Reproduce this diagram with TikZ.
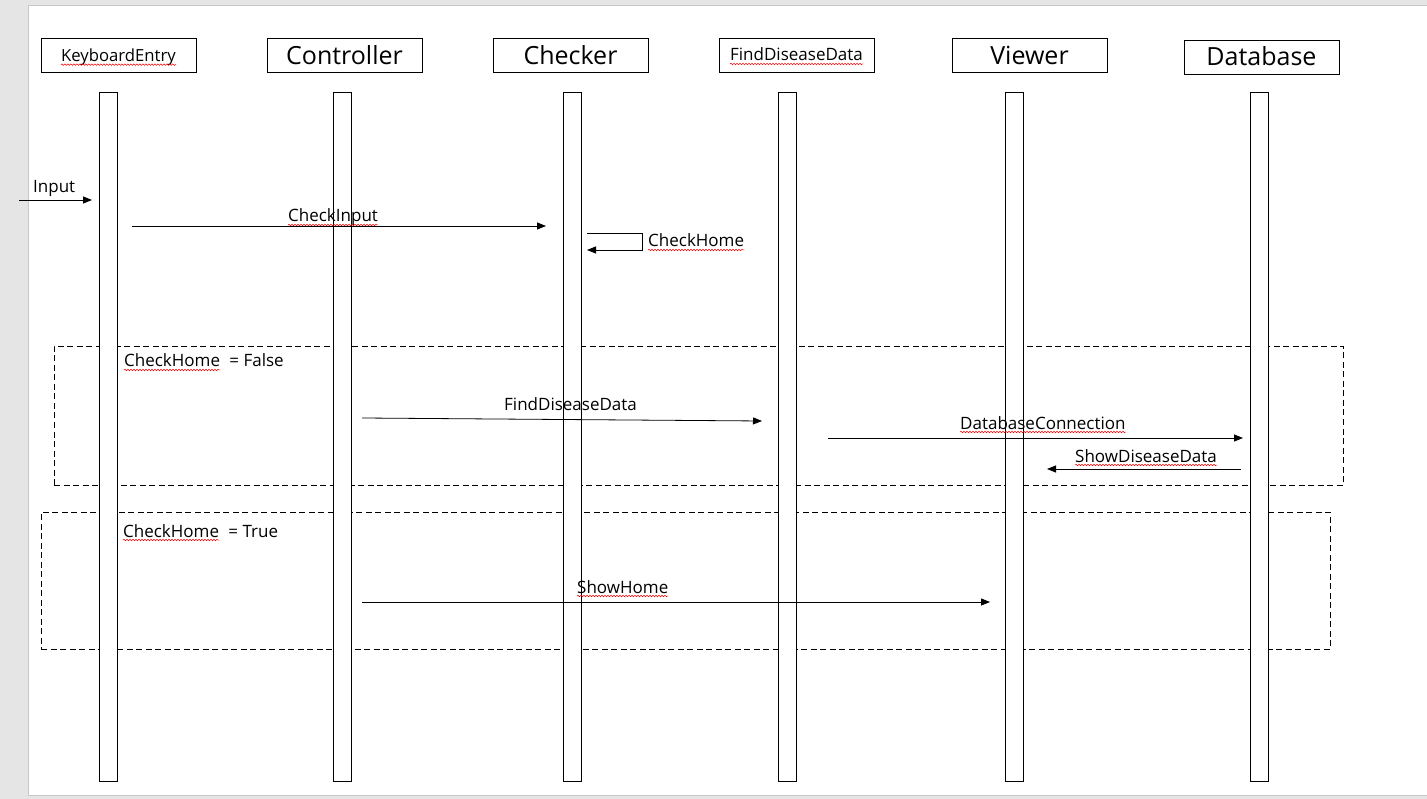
\documentclass[tikz,border=0pt]{standalone}
\usepackage{fontspec}
\setmainfont{Open Sans}
\usetikzlibrary{positioning, arrows.meta, decorations.pathmorphing}

\begin{document}
\begin{tikzpicture}[
        x=1pt, y=-1pt,
        >={Triangle[length=9pt, width=7pt]},
        head/.style={draw, line width=0.9pt, minimum width=155pt, minimum height=34pt, inner sep=0pt},
        bar/.style={draw, fill=white, line width=0.9pt, minimum width=18pt, inner sep=0pt},
        msg/.style={->, line width=0.8pt},
        lbl/.style={anchor=base west, inner sep=0pt, font=\fontsize{17}{19}\selectfont},
        frame/.style={draw, dash pattern=on 6pt off 3.5pt, line width=0.8pt},
        spell/.style={draw=red, line width=0.5pt, decorate, decoration={snake, segment length=3pt, amplitude=0.8pt}},
    ]

        % Page and background
        \useasboundingbox (0,0) rectangle (1427,799);
        \fill[black!10] (0,0) rectangle (1427,799);
        \fill[white] (28,6) rectangle (1427,795);
        \draw[black!22, line width=1pt] (1427,6) -- (28,6) -- (28,795) -- (1427,795);

        % Draw the two condition frames
        \node[frame, minimum width=1289pt, minimum height=139pt, inner sep=0pt] (F-1) at (698.5,415.5) {};
        \node[frame, minimum width=1289pt, minimum height=137pt, inner sep=0pt] (F-2) at (685.5,580.5) {};

        % Draw the participants with their activation bars
        \foreach \name / \hx / \hy / \base / \bx / \fs / \txt in {
                K/118.5/55/61.7/108/16.7/KeyboardEntry,
                C/344.5/55/65/342.5/25/Controller,
                H/570.5/55/65/572.5/25/Checker,
                F/796.5/55/61/787.5/17/FindDiseaseData,
                V/1029.5/55/65/1014.5/25/Viewer,
                D/1261.5/57/66/1259/25/Database}
        {
            \node[head] (P-\name) at (\hx,\hy) {};
            \node[anchor=base, inner sep=0pt, font=\fontsize{\fs}{\fs}\selectfont] (T-\name) at (\hx,\base) {\txt};
            \node[bar, minimum height=689pt] (B-\name) at (\bx,436.5) {};
        }

        % Message end points
        \coordinate (input) at (19,200);
        \coordinate (input-end) at (92,200);
        \coordinate (check-s) at (132,226);
        \coordinate (check-e) at (546,226);
        \coordinate (home-s) at (587,233);
        \coordinate (home-e) at (587,250);
        \coordinate (find-s) at (362,418);
        \coordinate (find-e) at (762,421);
        \coordinate (conn-s) at (828,438);
        \coordinate (conn-e) at (1243,438);
        \coordinate (show-s) at (1241,469);
        \coordinate (show-e) at (1047,469);
        \coordinate (homev-s) at (362,602);
        \coordinate (homev-e) at (990,602);

        % Draw the messages
        \draw[msg] (input) -- (input-end);
        \draw[msg] (check-s) -- (check-e);
        \draw[msg] (home-s) -- ++(55,0) -- ++(0,17) -- (home-e);
        \draw[msg] (find-s) -- (find-e);
        \draw[msg] (conn-s) -- (conn-e);
        \draw[msg] (show-s) -- (show-e);
        \draw[msg] (homev-s) -- (homev-e);

        % Message labels
        \node[lbl] (L-input) at (33,193) {Input};
        \node[lbl] (L-check) at (288,222) {CheckInput};
        \node[lbl] (L-home) at (648,247) {CheckHome};
        \node[lbl] (L-false) at (124,367) {CheckHome};
        \node[lbl] (L-false2) at ([xshift=9pt]L-false.base east) {= False};
        \node[lbl] (L-find) at (504,410) {FindDiseaseData};
        \node[lbl] (L-conn) at (960,429) {DatabaseConnection};
        \node[lbl] (L-show) at (1075,462) {ShowDiseaseData};
        \node[lbl] (L-true) at (123,537) {CheckHome};
        \node[lbl] (L-true2) at ([xshift=9pt]L-true.base east) {= True};
        \node[lbl] (L-homev) at (577,593) {ShowHome};

        % Spelling marks under the words
        \foreach \word in {T-K, T-F, L-check, L-home, L-false, L-conn, L-show, L-true, L-homev}
            \path[spell] ([yshift=-3pt]\word.base west) -- ([yshift=-3pt]\word.base east);
    \end{tikzpicture}
\end{document}
